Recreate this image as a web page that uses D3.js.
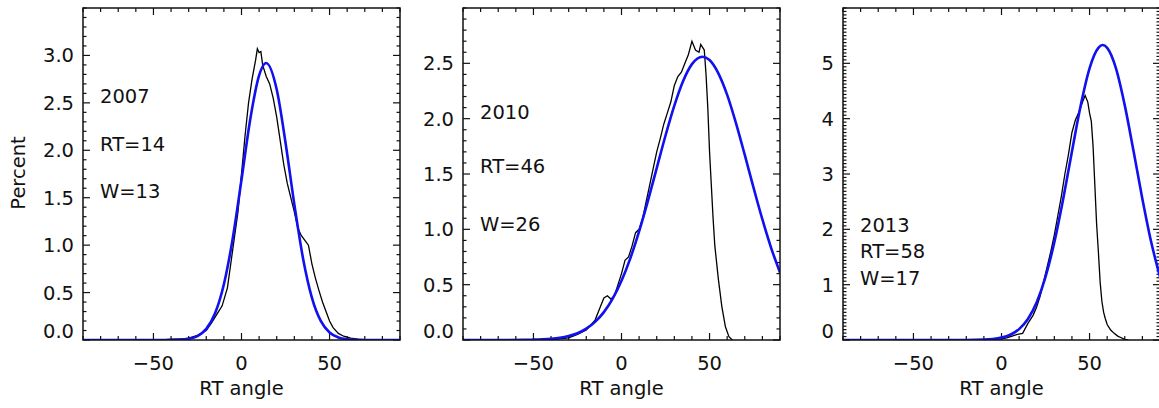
<!DOCTYPE html>
<html>
<head>
<meta charset="utf-8">
<script src="https://cdn.jsdelivr.net/npm/d3@7"></script>
<style>
  body { margin: 0; background: #fff; }
  svg text { font-family: "DejaVu Sans", sans-serif; fill: #111; }
</style>
</head>
<body>
<div id="chart"></div>
<script>
// data -------------------------------------------------------------------------
const years = ["2007", "2010", "2013"];
const rtLabels = ["RT=14", "RT=46", "RT=58"];
const wLabels = ["W=13", "W=26", "W=17"];
const yMax = [3.5, 3, 6];
const yMajor = [[0, 0.5, 1, 1.5, 2, 2.5, 3], [0, 0.5, 1, 1.5, 2, 2.5], [0, 1, 2, 3, 4, 5]];
const yTickFmt = [".1f", ".1f", "d"];
const yMinorStep = [0.1, 0.1, 0.0625];
const xMajor = [-50, 0, 50];

// fitted curve (blue)
const fitAngles07 = [-90, -40, -35, -30, -25, -20, -15, -10, -5, 0, 5, 10, 14, 20, 25, 30, 35, 40, 45, 50, 55, 60, 65, 70, 90];
const fit07 = [0, 0, 0.004, 0.013, 0.042, 0.117, 0.281, 0.587, 1.069, 1.69, 2.33, 2.79, 2.92, 2.64, 2.08, 1.43, 0.855, 0.445, 0.201, 0.079, 0.027, 0.008, 0.002, 0, 0];
const fitAngles10 = [-90, -55, -50, -45, -40, -35, -30, -25, -20, -15, -10, -5, 0, 5, 10, 15, 20, 25, 30, 35, 40, 46, 50, 55, 60, 65, 70, 75, 80, 85, 90];
const fit10 = [0, 0.001, 0.003, 0.006, 0.011, 0.02, 0.036, 0.061, 0.102, 0.164, 0.252, 0.374, 0.535, 0.738, 0.981, 1.257, 1.553, 1.848, 2.118, 2.341, 2.493, 2.56, 2.53, 2.41, 2.215, 1.96, 1.672, 1.375, 1.089, 0.831, 0.61];
const fitAngles13 = [-90, -20, -10, -5, 0, 5, 10, 15, 20, 25, 30, 35, 40, 45, 50, 55, 57.5, 60, 65, 70, 75, 80, 85, 90];
const fit13 = [0, 0, 0.007, 0.018, 0.043, 0.095, 0.197, 0.381, 0.683, 1.139, 1.766, 2.545, 3.407, 4.243, 4.91, 5.28, 5.33, 5.28, 4.91, 4.24, 3.41, 2.55, 1.77, 1.14];

// histogram (black)
const histAngles07 = [-45, -40, -35, -30, -25, -20, -17, -14, -11, -8, -5, -2, 0, 2, 4, 6, 8, 9, 10, 11, 12, 14, 16, 18, 20, 22, 24, 26, 28, 30, 32, 34, 36, 38, 40, 42, 44, 46, 48, 50, 52, 55, 58, 62, 66, 72];
const hist07 = [0, 0.01, 0.01, 0.02, 0.05, 0.1, 0.18, 0.27, 0.36, 0.55, 0.95, 1.35, 1.75, 2.15, 2.5, 2.75, 2.95, 3.07, 3.03, 3.04, 2.9, 2.78, 2.7, 2.55, 2.35, 2.1, 1.85, 1.65, 1.5, 1.35, 1.18, 1.1, 1.05, 1.0, 0.8, 0.65, 0.52, 0.4, 0.3, 0.2, 0.13, 0.07, 0.04, 0.02, 0.01, 0];
const histAngles10 = [-40, -35, -30, -25, -20, -15, -12, -10, -8, -6, -4, -2, 0, 2, 4, 6, 8, 10, 12, 14, 16, 18, 20, 22, 24, 26, 28, 30, 32, 34, 36, 38, 40, 42, 44, 45, 47, 48, 49, 50, 51, 52, 53, 55, 57, 59, 61, 63];
const hist10 = [0, 0.01, 0.02, 0.05, 0.09, 0.18, 0.3, 0.38, 0.4, 0.37, 0.4, 0.5, 0.6, 0.72, 0.75, 0.85, 0.97, 1.0, 1.1, 1.25, 1.4, 1.55, 1.7, 1.82, 1.95, 2.05, 2.15, 2.3, 2.38, 2.42, 2.5, 2.58, 2.7, 2.62, 2.6, 2.67, 2.62, 2.4, 2.1, 1.7, 1.4, 1.1, 0.85, 0.55, 0.3, 0.12, 0.03, 0];
const histAngles13 = [-10, -5, 0, 3, 6, 9, 12, 15, 18, 20, 22, 25, 28, 30, 32, 34, 36, 38, 40, 42, 44, 46, 47.5, 49, 50, 51, 52, 53, 54, 55, 56, 57, 58, 59, 60, 62, 64, 66, 68, 70, 72];
const hist13 = [0, 0.01, 0.02, 0.04, 0.07, 0.1, 0.12, 0.3, 0.45, 0.6, 0.8, 1.2, 1.6, 1.9, 2.25, 2.6, 3.0, 3.35, 3.75, 3.98, 4.12, 4.3, 4.42, 4.3, 4.1, 3.95, 3.5, 2.8, 2.1, 1.6, 1.05, 0.7, 0.5, 0.38, 0.28, 0.18, 0.12, 0.07, 0.04, 0.01, 0];

const fitAngles = [fitAngles07, fitAngles10, fitAngles13];
const fits = [fit07, fit10, fit13];
const histAngles = [histAngles07, histAngles10, histAngles13];
const hists = [hist07, hist10, hist13];

// layout ----------------------------------------------------------------------
const width = 1159, height = 408;
const panelLeft = [83, 463, 843];
const panelW = 317, plotTop = 8, plotBottom = 340;
const fontSize = 19.5;
// where the three text lines sit (baselines)
const textY = [[103, 151, 198], [119, 173, 231], [232, 258, 285]];
const textX = [100, 480, 860];

const svg = d3.select("#chart").append("svg")
    .attr("width", width)
    .attr("height", height);

svg.append("text")
    .attr("transform", `translate(25,173) rotate(-90)`)
    .attr("text-anchor", "middle")
    .attr("font-size", fontSize)
    .text("Percent");

years.forEach((yr, i) => {
    const x = d3.scaleLinear().domain([-90, 90]).range([panelLeft[i], panelLeft[i] + panelW]);
    const y = d3.scaleLinear().domain([0, yMax[i]]).range([plotBottom, plotTop]);
    const g = svg.append("g");

    g.append("clipPath").attr("id", "clip" + i)
      .append("rect")
        .attr("x", x.range()[0]).attr("y", plotTop)
        .attr("width", panelW).attr("height", plotBottom - plotTop);

    // ticks, IDL style: pointing inward on all four sides
    const xMinor = d3.range(-90, 91, 10);
    const yMinor = d3.range(0, yMax[i] + 1e-9, yMinorStep[i]);
    const tickG = g.append("g").attr("stroke", "#111").attr("stroke-width", 1.2);
    xMinor.forEach(v => {
        const len = xMajor.includes(v) ? 7 : 4;
        tickG.append("line").attr("x1", x(v)).attr("x2", x(v)).attr("y1", plotBottom).attr("y2", plotBottom - len);
        tickG.append("line").attr("x1", x(v)).attr("x2", x(v)).attr("y1", plotTop).attr("y2", plotTop + len);
    });
    yMinor.forEach(v => {
        const isMajor = yMajor[i].some(m => Math.abs(m - v) < 1e-6);
        const len = isMajor ? 7 : 3.5;
        tickG.append("line").attr("x1", x.range()[0]).attr("x2", x.range()[0] + len).attr("y1", y(v)).attr("y2", y(v));
        tickG.append("line").attr("x1", x.range()[1]).attr("x2", x.range()[1] - len).attr("y1", y(v)).attr("y2", y(v));
    });

    // curves
    const line = d3.line().x(d => x(d[0])).y(d => y(d[1]));
    g.append("path")
        .datum(d3.zip(histAngles[i], hists[i]))
        .attr("clip-path", `url(#clip${i})`)
        .attr("d", line)
        .attr("fill", "none")
        .attr("stroke", "#000")
        .attr("stroke-width", 1.3);
    g.append("path")
        .datum(d3.zip(fitAngles[i], fits[i]))
        .attr("clip-path", `url(#clip${i})`)
        .attr("d", line.curve(d3.curveMonotoneX))
        .attr("fill", "none")
        .attr("stroke", "#1010f0")
        .attr("stroke-width", 2.6);

    // frame
    g.append("rect")
        .attr("x", x.range()[0]).attr("y", plotTop)
        .attr("width", panelW).attr("height", plotBottom - plotTop)
        .attr("fill", "none")
        .attr("stroke", "#111")
        .attr("stroke-width", 1.5);

    // tick labels
    g.selectAll(".xl").data(xMajor).join("text")
        .attr("x", d => x(d)).attr("y", 370)
        .attr("text-anchor", "middle")
        .attr("font-size", fontSize)
        .text(d => d3.format("d")(d).replace("-", "\u2212"));
    g.selectAll(".yl").data(yMajor[i]).join("text")
        .attr("x", x.range()[0] - 9)
        .attr("y", d => d === 0 ? y(d) - 2 : y(d) + 7)
        .attr("text-anchor", "end")
        .attr("font-size", fontSize)
        .text(d => d3.format(yTickFmt[i])(d));

    g.append("text")
        .attr("x", x(0)).attr("y", 395)
        .attr("text-anchor", "middle")
        .attr("font-size", fontSize)
        .text("RT angle");

    [yr, rtLabels[i], wLabels[i]].forEach((t, k) => {
        g.append("text")
            .attr("x", textX[i]).attr("y", textY[i][k])
            .attr("font-size", fontSize)
            .text(t);
    });
});
</script>
</body>
</html>
